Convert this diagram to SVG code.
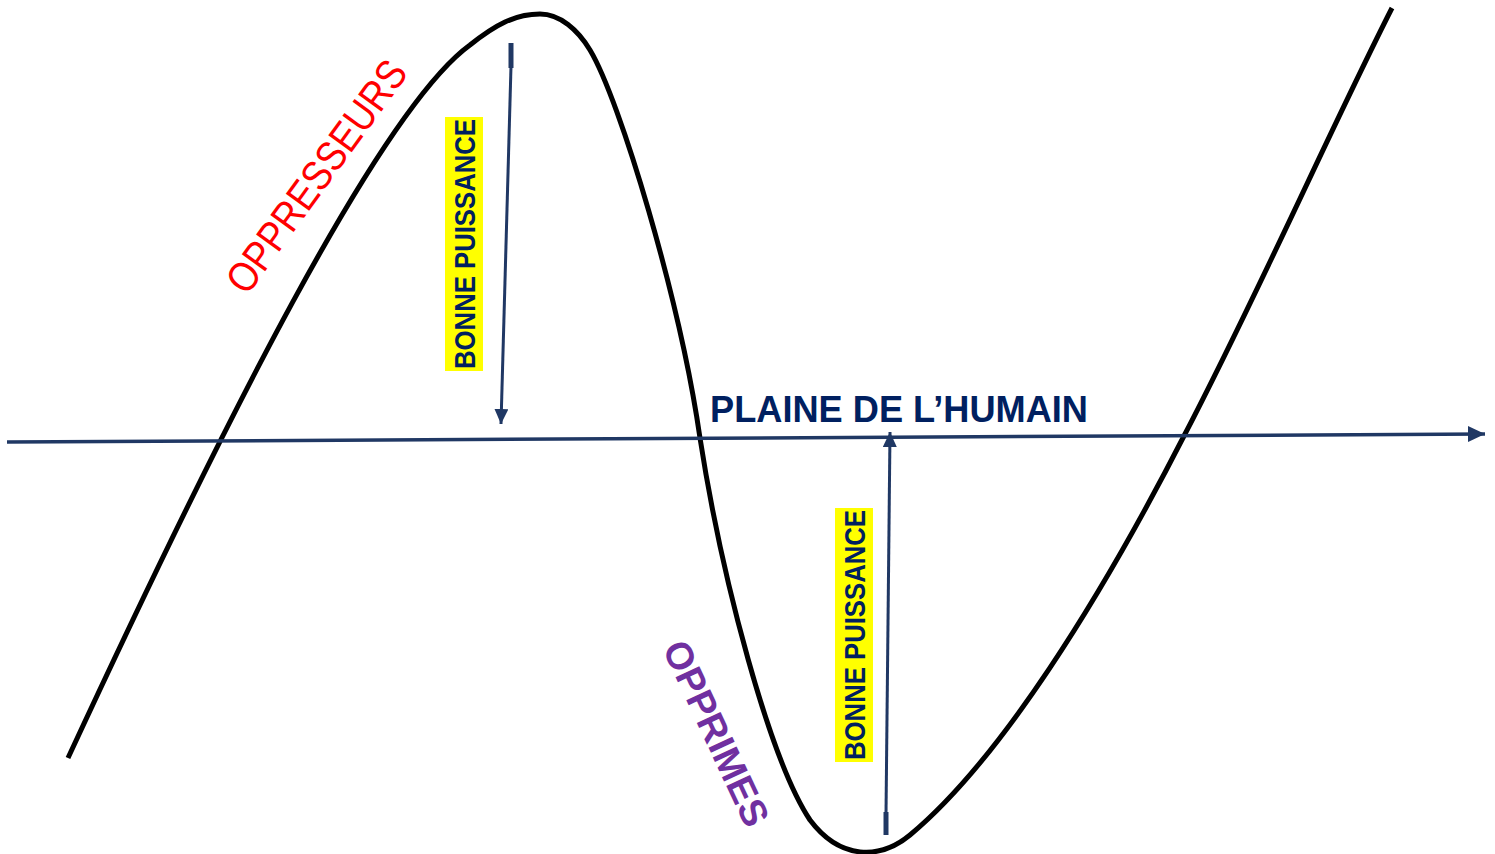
<svg xmlns="http://www.w3.org/2000/svg" width="1495" height="854" viewBox="0 0 1495 854">
  <style>
    .curve { fill: none; stroke: #000000; stroke-width: 5; stroke-linecap: butt; }
    .axis { fill: none; stroke: #203864; stroke-width: 3.5; }
    .arr { fill: none; stroke: #203864; stroke-width: 3; }
    .stub { fill: none; stroke: #203864; stroke-width: 5; }
    .hl { fill: #FFFF00; }
    .bp { font-family: "Liberation Sans", Arial, sans-serif; font-weight: bold; font-size: 30px; fill: #002060; }
    .plaine { font-family: "Liberation Sans", Arial, sans-serif; font-weight: bold; font-size: 36px; fill: #002060; }
    .opp { font-family: "Liberation Sans", Arial, sans-serif; font-size: 42px; fill: #FF0000; }
    .oppr { font-family: "Liberation Sans", Arial, sans-serif; font-weight: bold; font-size: 38px; fill: #7030A0; }
  </style>
  <defs>
    <marker id="head" markerUnits="userSpaceOnUse" markerWidth="18" markerHeight="16" refX="15" refY="7" orient="auto">
      <path d="M0,0 L15,7 L0,14 Z" fill="#203864"/>
    </marker>
    <marker id="headAxis" markerUnits="userSpaceOnUse" markerWidth="20" markerHeight="18" refX="17" refY="8" orient="auto">
      <path d="M0,0 L17,8 L0,16 Z" fill="#203864"/>
    </marker>
  </defs>
  <rect width="1495" height="854" fill="#FFFFFF"/>

  <g id="curve">
    <path class="curve" d="M68,758 C220,430 380,110 470,45 C495,25 515,14 540,14 C560,14 578,30 590,50 C620,100 680,300 700,438 C722,580 770,760 810,820 C840,860 880,860 910,835 C1000,760 1100,600 1185,434 C1260,290 1330,130 1392,8"/>
  </g>

  <g id="connectors">
    <line class="axis" x1="7" y1="442" x2="1485" y2="434" marker-end="url(#headAxis)"/>
    <line class="stub" x1="511" y1="43" x2="511" y2="68"/>
    <line class="arr" x1="511" y1="66" x2="501" y2="424" marker-end="url(#head)"/>
    <line class="stub" x1="886" y1="835" x2="886" y2="812"/>
    <line class="arr" x1="886" y1="814" x2="890" y2="432" marker-end="url(#head)"/>
  </g>

  <g id="label-plaine">
    <text class="plaine" x="710" y="422" textLength="378" lengthAdjust="spacingAndGlyphs">PLAINE DE L’HUMAIN</text>
  </g>

  <g id="label-bonne-puissance-1">
    <rect class="hl" x="445" y="117" width="38" height="254"/>
    <text class="bp" x="464" y="255" text-anchor="middle" textLength="250" lengthAdjust="spacingAndGlyphs" transform="rotate(-90 464 244)">BONNE PUISSANCE</text>
  </g>

  <g id="label-bonne-puissance-2">
    <rect class="hl" x="835" y="508" width="38" height="254"/>
    <text class="bp" x="854" y="646" text-anchor="middle" textLength="250" lengthAdjust="spacingAndGlyphs" transform="rotate(-90 854 635)">BONNE PUISSANCE</text>
  </g>

  <g id="label-oppresseurs">
    <text class="opp" x="0" y="15" text-anchor="middle" textLength="276" lengthAdjust="spacingAndGlyphs" transform="translate(316,176) rotate(-54)">OPPRESSEURS</text>
  </g>

  <g id="label-opprimes">
    <text class="oppr" x="0" y="14" text-anchor="middle" textLength="200" lengthAdjust="spacingAndGlyphs" transform="translate(717,733) rotate(65)">OPPRIMES</text>
  </g>
</svg>
